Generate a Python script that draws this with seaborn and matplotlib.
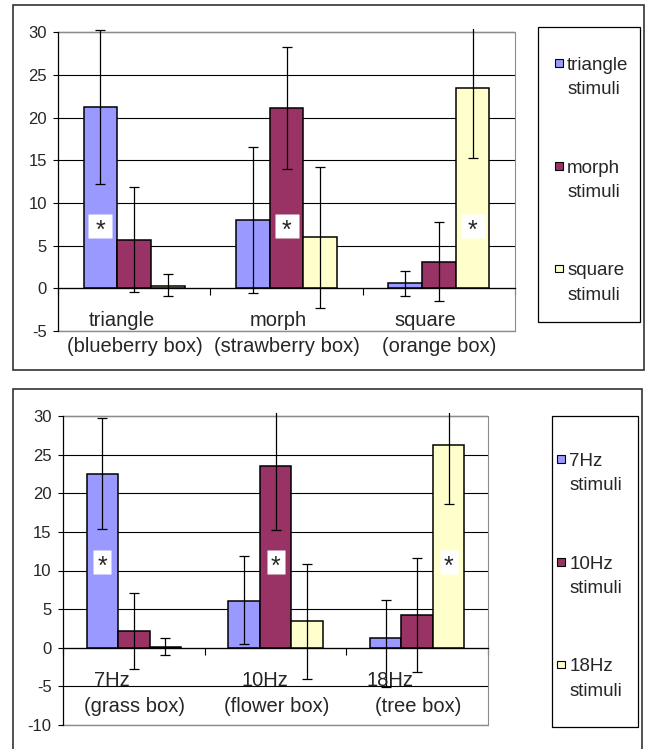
import matplotlib.pyplot as plt
import matplotlib.patches as mpatches
from matplotlib.legend_handler import HandlerPatch
from matplotlib.path import Path
import pandas as pd
import seaborn as sns

# ---- data ----
# top chart: choices per box, one series per stimulus type
top_boxes = ['triangle', 'morph', 'square']
top_box_notes = ['(blueberry box)', '(strawberry box)', '(orange box)']
top_stimuli = ['triangle stimuli', 'morph stimuli', 'square stimuli']
top_triangle = [21.2, 8.0, 0.6]
top_morph = [5.7, 21.1, 3.1]
top_square = [0.3, 6.0, 23.5]
top_err_low = [[9.0, 8.5, 1.5], [6.1, 7.1, 4.6], [1.2, 8.3, 8.2]]
top_err_high = [[9.1, 8.5, 1.4], [6.2, 7.1, 4.7], [1.4, 8.2, 8.2]]
top_star_y = 7.3

# bottom chart: same thing with flicker frequencies
bot_boxes = ['7Hz', '10Hz', '18Hz']
bot_box_notes = ['(grass box)', '(flower box)', '(tree box)']
bot_stimuli = ['7Hz stimuli', '10Hz stimuli', '18Hz stimuli']
bot_7hz = [22.5, 6.1, 1.2]
bot_10hz = [2.2, 23.5, 4.2]
bot_18hz = [0.1, 3.4, 26.2]
bot_err_low = [[7.1, 5.6, 6.3], [5.0, 8.3, 7.4], [1.0, 7.5, 7.6]]
bot_err_high = [[7.2, 5.8, 5.0], [4.9, 8.3, 7.4], [1.2, 7.5, 7.6]]
bot_star_y = 11.1

colors = ['#9999FF', '#993366', '#FFFFCC']
border_grey = '#8c8c8c'
W, H = 646, 749

sns.set_style('white')
plt.rcParams['font.family'] = ['Liberation Sans', 'DejaVu Sans']
plt.rcParams['axes.unicode_minus'] = False


def px_box(x0, x1, y0, y1):
    # pixel box (from top-left) -> figure fraction [left, bottom, width, height]
    return [x0 / W, 1 - y1 / H, (x1 - x0) / W, (y1 - y0) / H]


def frame(fig, x0, x1, y0, y1, color, lw):
    l, b, w, h = px_box(x0, x1, y0, y1)
    fig.add_artist(mpatches.Rectangle((l, b), w, h, transform=fig.transFigure,
                                      fill=False, edgecolor=color, linewidth=lw))


def swatch(legend, orig_handle, xdescent, ydescent, width, height, fontsize):
    # small square next to the first line of the label
    return mpatches.Rectangle((-xdescent, -ydescent + 0.92 * fontsize), 5.4, 5.4)


def draw_panel(fig, ax, boxes, notes, stimuli, series, err_low, err_high,
               ymin, star_y, star_aspect, note_shift, leg_xy):
    df = pd.DataFrame({
        'box': boxes * len(stimuli),
        'stimulus': [s for s in stimuli for _ in boxes],
        'value': [v for vals in series for v in vals],
    })
    sns.barplot(data=df, x='box', y='value', hue='stimulus', palette=colors,
                saturation=1, width=0.665, edgecolor='black', linewidth=1.1,
                errorbar=None, legend=False, ax=ax, zorder=2)
    bar_groups = list(ax.containers)

    star_marker = Path([(-star_aspect / 2, -0.5), (star_aspect / 2, -0.5),
                        (star_aspect / 2, 0.5), (-star_aspect / 2, 0.5),
                        (-star_aspect / 2, -0.5)], closed=True)
    handles = []
    for i, bars in enumerate(bar_groups):
        xs = [b.get_x() + b.get_width() / 2 for b in bars]
        ys = [b.get_height() for b in bars]
        ax.errorbar(xs, ys, yerr=[err_low[i], err_high[i]], fmt='none',
                    ecolor='black', elinewidth=0.9, capsize=3.8, capthick=0.9,
                    zorder=3)
        # significant bar: the stimulus matching the box
        ax.plot(xs[i], star_y, marker=star_marker, markersize=17.3,
                color='white', markeredgecolor='none', zorder=4)
        ax.annotate('*', (xs[i], star_y), xytext=(0, -3.5),
                    textcoords='offset points', ha='center', va='center',
                    fontsize=18, zorder=5)
        handles.append(mpatches.Patch(facecolor=bars[0].get_facecolor(),
                                      edgecolor='black', linewidth=0.8))

    ax.set_xlim(-0.5, 2.5)
    ax.set_ylim(ymin, 30.35)
    ax.set_yticks(range(ymin, 31, 5))
    ax.set_xticks([-0.5, 0.5, 1.5, 2.5])
    ax.set_xticklabels([])
    ax.set_xlabel('')
    ax.set_ylabel('')
    ax.tick_params(axis='x', direction='out', length=5, width=0.8,
                   color='black', bottom=True)
    ax.tick_params(axis='y', direction='out', length=3.6, width=0.8,
                   color='black', pad=4.5, labelsize=12, left=True)

    ax.yaxis.grid(True, color='black', linewidth=0.8)
    ax.set_axisbelow(True)
    ax.axhline(30, color=border_grey, linewidth=1.0, zorder=1)
    ax.axhline(ymin, color=border_grey, linewidth=1.0, zorder=1, clip_on=False)
    ax.spines['top'].set_visible(False)
    ax.spines['right'].set_bounds(ymin, 30)
    ax.spines['right'].set_color(border_grey)
    ax.spines['left'].set_bounds(ymin, 30)
    ax.spines['left'].set_color('black')
    ax.spines['left'].set_linewidth(0.9)
    ax.spines['bottom'].set_position(('data', 0))
    ax.spines['bottom'].set_color('black')
    ax.spines['bottom'].set_linewidth(0.9)

    for i, (name, note) in enumerate(zip(boxes, notes)):
        ax.annotate(name, (i, 0), xytext=(note_shift[i], -27.5),
                    textcoords='offset points', ha='center', va='baseline',
                    fontsize=14.5, annotation_clip=False)
        ax.annotate(note, (i, 0), xytext=(0.5, -46),
                    textcoords='offset points', ha='center', va='baseline',
                    fontsize=14.5, annotation_clip=False)

    leg = fig.legend(handles, [s.replace(' ', '\n') for s in stimuli],
                     loc='upper left',
                     bbox_to_anchor=(leg_xy[0] / W, 1 - leg_xy[1] / H),
                     bbox_transform=fig.transFigure, frameon=False,
                     fontsize=13.5, handlelength=0.45, handleheight=0.7,
                     handletextpad=0.2, labelspacing=3.27, borderpad=0,
                     borderaxespad=0,
                     handler_map={mpatches.Patch: HandlerPatch(patch_func=swatch)})
    for t in leg.get_texts():
        t.set_linespacing(1.57)


fig = plt.figure(figsize=(W / 100, H / 100), dpi=100)

# outer frames of the two pasted charts, and their legend boxes
frame(fig, 13, 644, 5, 370, '#333333', 1.2)
frame(fig, 13, 642, 389, 760, '#333333', 1.2)
frame(fig, 538, 640, 27, 322, 'black', 0.9)
frame(fig, 552, 638, 416, 727, 'black', 0.9)

ax_top = fig.add_axes(px_box(58, 515, 331 - 35.35 * 8.54, 331))
draw_panel(fig, ax_top, top_boxes, top_box_notes, top_stimuli,
           [top_triangle, top_morph, top_square], top_err_low, top_err_high,
           -5, top_star_y, 1.0, [-8.6, -5.8, -9.4], (555, 57))

ax_bot = fig.add_axes(px_box(63, 488, 725 - 40.35 * 7.725, 725))
draw_panel(fig, ax_bot, bot_boxes, bot_box_notes, bot_stimuli,
           [bot_7hz, bot_10hz, bot_18hz], bot_err_low, bot_err_high,
           -10, bot_star_y, 0.78, [-15.8, -7.9, -19.4], (557, 453))

fig.savefig('out.png', dpi=100)
